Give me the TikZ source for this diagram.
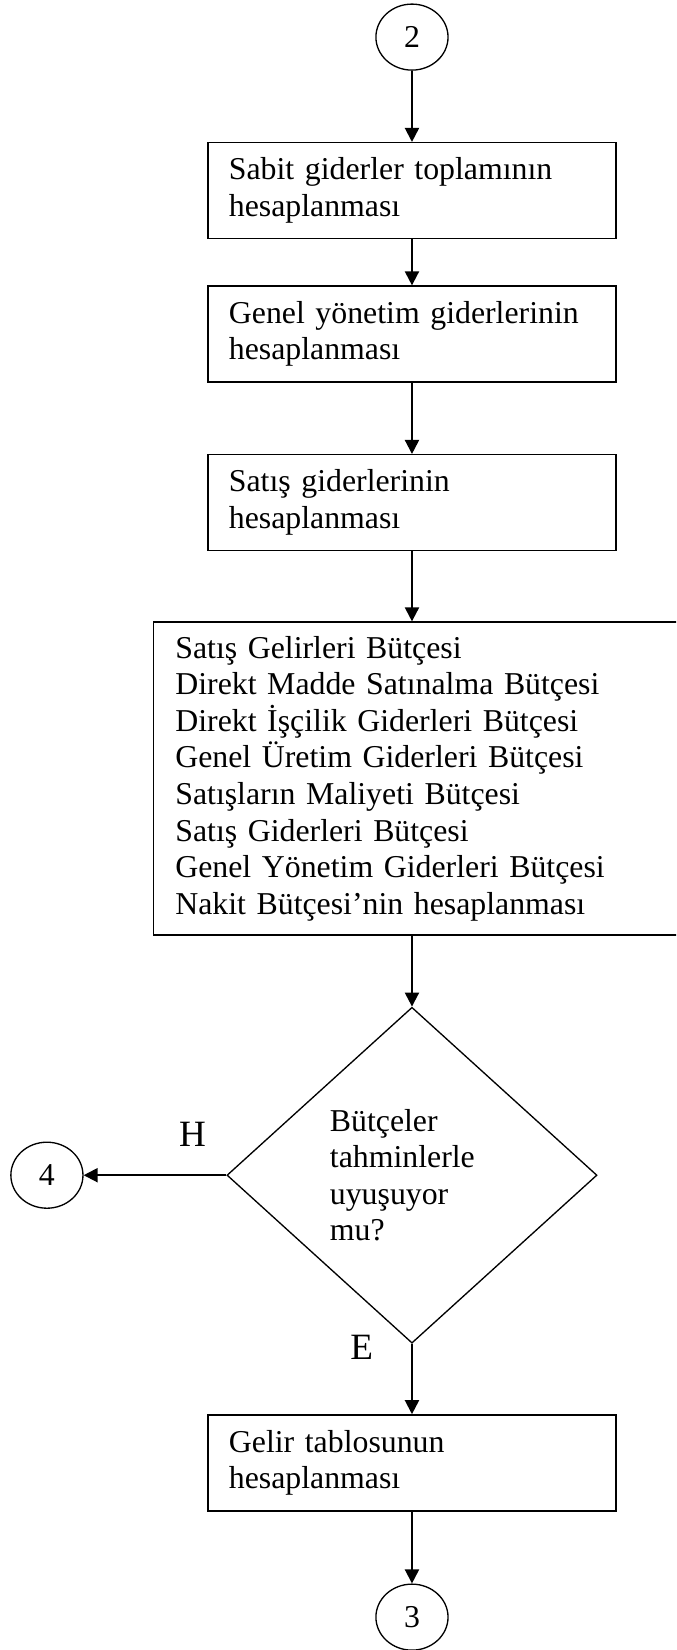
\documentclass[tikz,border=0pt]{standalone}
\usepackage{fontspec}
\setmainfont{Liberation Serif}
\usetikzlibrary{shapes.geometric,arrows.meta}
\tikzstyle{every picture}=[node distance=2cm, >={Triangle[length=5.3pt,width=5.3pt]},%
	font=\fontsize{12}{13.8}\selectfont]
\tikzstyle{islem}=[draw, rectangle, line width=0.5pt, text width=138.1pt, align=left,%
	minimum height=36.2pt, inner xsep=7.9pt]
\tikzstyle{baglanti}=[draw, ellipse, line width=0.5pt, minimum width=27.2pt,%
	minimum height=24.9pt, inner sep=0pt]
\tikzstyle{karar}=[draw, diamond, line width=0.5pt, aspect=1.1, inner sep=0pt,%
	minimum width=139.6pt, minimum height=126.7pt, text width=61.9pt, align=left]
\tikzstyle{ok}=[->, line width=0.75pt]
\tikzstyle{cevap}=[font=\fontsize{14}{16}\selectfont]

\begin{document}
\begin{tikzpicture}
	\clip (0,0) rectangle (255pt,-622.4pt);
	\node (c2) [baglanti] at (155.4pt,-14pt) {2};
	\node (b1) [islem, below of=c2, node distance=57.9pt] {Sabit giderler toplamının\\hesaplanması};
	\node (b2) [islem, below of=b1, node distance=54.1pt] {Genel yönetim giderlerinin\\hesaplanması};
	\node (b3) [islem, below of=b2, node distance=63.6pt] {Satış giderlerinin\\hesaplanması};
	\node (b4) [islem, below of=b3, node distance=104.1pt, xshift=5.6pt, text width=189.7pt,%
		inner xsep=8.3pt, minimum height=118.1pt] {Satış Gelirleri Bütçesi\\
		Direkt Madde Satınalma Bütçesi\\
		Direkt İşçilik Giderleri Bütçesi\\
		Genel Üretim Giderleri Bütçesi\\
		Satışların Maliyeti Bütçesi\\
		Satış Giderleri Bütçesi\\
		Genel Yönetim Giderleri Bütçesi\\
		Nakit Bütçesi’nin hesaplanması};
	\node (q) [karar, below of=b3, node distance=253.7pt] {Bütçeler\\tahminlerle\\uyuşuyor\\mu?};
	\node (c4) [baglanti, left of=q, node distance=137.7pt] {4};
	\node (b5) [islem, below of=q, node distance=108.5pt] {Gelir tablosunun\\hesaplanması};
	\node (c3) [baglanti, below of=b5, node distance=58.2pt] {3};
	\draw[ok] (c2) -- (b1);
	\draw[ok] (b1) -- (b2);
	\draw[ok] (b2) -- (b3);
	\draw[ok] (b3) -- (b3 |- b4.north);
	\draw[ok] (q |- b4.south) -- (q);
	\draw[ok] (q) -- node[cevap, pos=0.236, above=7pt] {H} (c4);
	\draw[ok] (q) -- node[cevap, pos=0.056, left=11pt] {E} (b5);
	\draw[ok] (b5) -- (c3);
\end{tikzpicture}
\end{document}
